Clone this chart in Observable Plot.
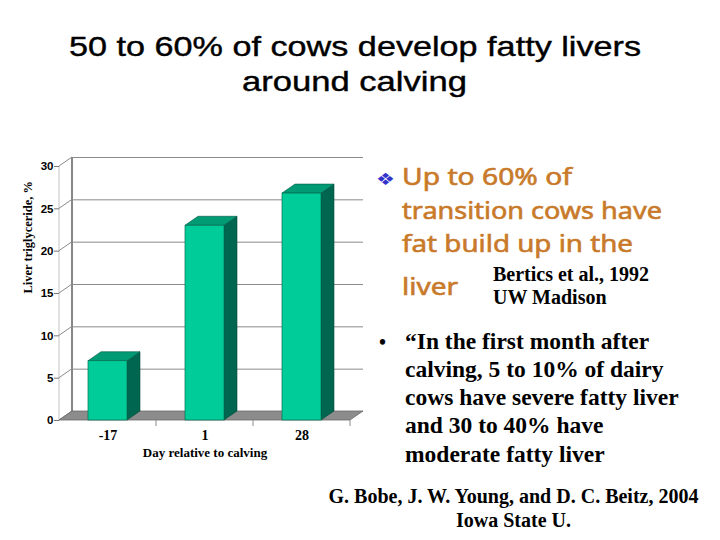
<!DOCTYPE html>
<html>
<head>
<meta charset="utf-8">
<script src="https://cdn.jsdelivr.net/npm/d3@7"></script>
<script src="https://cdn.jsdelivr.net/npm/@observablehq/plot@0.6"></script>
<style>
  html, body { margin: 0; padding: 0; background: #fff; }
  #slide { position: relative; width: 720px; height: 540px; overflow: hidden; background: #fff; }
  #chart { position: absolute; left: 0; top: 140px; }
  #notes { position: absolute; left: 0; top: 0; pointer-events: none; }
  #chart g[aria-label="y-axis tick label"] { font-family: 'Liberation Sans', Arial, sans-serif; font-size: 11.5px; font-weight: bold; }
  #chart g[aria-label="x-axis tick label"] { font-family: 'Liberation Serif', 'Times New Roman', serif; font-size: 14px; font-weight: bold; }
</style>
</head>
<body>
<div id="slide">
  <div id="chart"></div>
  <svg id="notes" width="720" height="540"></svg>
</div>
<script>
// ---------- data ----------
const days = ["-17", "1", "28"];
const triglyceride = [7.0, 23.0, 26.8];
const yTicks = [0, 5, 10, 15, 20, 25, 30];
const yLabel = "Liver triglyceride, %";
const xLabel = "Day relative to calving";

const titleLines = ["50 to 60% of cows develop fatty livers", "around calving"];
const pointLines = ["Up to 60% of", "transition cows have", "fat build up in the", "liver"];
const sourceLines = ["Bertics et al., 1992", "UW Madison"];
const quoteLines = ["\u201CIn the first month after", "calving, 5 to 10% of dairy", "cows have severe fatty liver", "and 30 to 40% have", "moderate fatty liver"];
const creditLines = ["G. Bobe, J. W. Young, and D. C. Beitz, 2004", "Iowa State U."];

const rows = days.map((day, i) => ({day, value: triglyceride[i]}));

// ---------- 3D helpers ----------
const DX = 13, DY = -9;
const SERIF = "'Liberation Serif', 'Times New Roman', serif";
const SANS = "'Liberation Sans', Arial, sans-serif";

function poly(g, pts, fill, stroke, sw) {
  g.append("polygon")
    .attr("points", pts.map(p => p.join(",")).join(" "))
    .attr("fill", fill).attr("stroke", stroke).attr("stroke-width", sw)
    .attr("stroke-linejoin", "round");
}
function seg(g, a, b, stroke, sw) {
  g.append("line").attr("x1", a[0]).attr("y1", a[1]).attr("x2", b[0]).attr("y2", b[1])
    .attr("stroke", stroke).attr("stroke-width", sw);
}
function bandwidthOf(x) { return typeof x.bandwidth === "function" ? x.bandwidth() : x.bandwidth; }

const leftWall = (index, scales, values, dim) => {
  const {y} = scales;
  const g = d3.create("svg:g");
  const x0 = dim.marginLeft;
  const yTop = y(d3.max(yTicks)), yBase = y(0);
  seg(g, [x0, yTop], [x0, yBase], "#c4c4c4", 1);
  seg(g, [x0 + DX, yTop + DY], [x0 + DX, yBase + DY], "#7a7a7a", 1.8);
  for (const t of yTicks) seg(g, [x0, y(t)], [x0 + DX, y(t) + DY], "#8a8a8a", 1);
  return g.node();
};

const floor = (index, scales, values, dim) => {
  const {x, y} = scales;
  const g = d3.create("svg:g");
  const x0 = dim.marginLeft, x1 = dim.width - dim.marginRight, yb = y(0);
  poly(g, [[x0, yb], [x1, yb], [x1 + DX, yb + DY], [x0 + DX, yb + DY]], "#8c8c8c", "#6a6a6a", 0.8);
  const bw = bandwidthOf(x);
  days.forEach((d, i) => {
    const bx = i < days.length - 1 ? (x(d) + bw + x(days[i + 1])) / 2 : x1;
    seg(g, [bx, yb], [bx, yb + 6], "#8a8a8a", 1);
  });
  return g.node();
};

const bars3d = (index, scales) => {
  const {x, y} = scales;
  const g = d3.create("svg:g");
  const bw = bandwidthOf(x), yb = y(0);
  rows.forEach(r => {
    const bx = x(r.day), yt = y(r.value);
    poly(g, [[bx + bw, yb], [bx + bw, yt], [bx + bw + DX, yt + DY], [bx + bw + DX, yb + DY]], "#00664f", "#004a38", 0.6);
    poly(g, [[bx, yt], [bx + bw, yt], [bx + bw + DX, yt + DY], [bx + DX, yt + DY]], "#009a74", "#005a44", 0.6);
  });
  return g.node();
};

// ---------- chart ----------
const chart = Plot.plot({
  width: 370,
  height: 330,
  marginLeft: 59,
  marginRight: 20,
  marginTop: 26,
  marginBottom: 50,
  style: {background: "transparent", overflow: "visible"},
  x: {type: "band", domain: days, paddingInner: 0.6, paddingOuter: 0.3, axis: null, label: null},
  y: {domain: [0, 30], axis: null, label: null},
  marks: [
    leftWall,
    Plot.ruleY(yTicks, {dx: DX, dy: DY, stroke: "#8a8a8a", strokeWidth: 1}),
    floor,
    bars3d,
    Plot.barY(rows, {x: "day", y: "value", fill: "#00cc99", stroke: "#006e52", strokeWidth: 0.7}),
    Plot.axisY(yTicks, {tickSize: 5, tickPadding: 1, stroke: "#777", fontSize: 11.5, fontWeight: "bold", fontFamily: SANS, label: null}),
    Plot.axisX({tickSize: 0, tickPadding: 10, fontSize: 14, fontWeight: "bold", fontFamily: SERIF, label: null}),
    Plot.text([yLabel], {text: d => d, frameAnchor: "left", rotate: -90, dx: -32, fontSize: 12.5, fontWeight: "bold", fontFamily: SERIF, fill: "#000"}),
    Plot.text([xLabel], {text: d => d, frameAnchor: "bottom", dy: 36.5, fontSize: 13, fontWeight: "bold", fontFamily: SERIF, fill: "#000"})
  ]
});
document.getElementById("chart").appendChild(chart);

// ---------- slide text ----------
const notes = d3.select("#notes");
function addLine(str, o) {
  const t = notes.append("text")
    .attr("x", o.x).attr("y", o.y)
    .attr("font-family", o.family).attr("font-size", o.size)
    .attr("font-weight", o.weight || "normal")
    .attr("fill", o.fill || "#000")
    .attr("text-anchor", o.anchor || "start")
    .text(str);
  if (o.len) t.attr("textLength", o.len).attr("lengthAdjust", "spacingAndGlyphs");
  if (o.stroke) t.attr("stroke", o.stroke).attr("stroke-width", o.strokeWidth);
  return t;
}

const titleX = [69, 242], titleY = [56, 91], titleLen = [572, 225];
titleLines.forEach((s, i) => addLine(s, {x: titleX[i], y: titleY[i], len: titleLen[i], family: SANS, size: 28, stroke: "#000", strokeWidth: 0.4}));

addLine("\u2756", {x: 376, y: 185, family: "'DejaVu Sans', sans-serif", size: 17, fill: "#3333cc", len: 19});
const pointY = [185, 219, 252, 295], pointLen = [170, 260, 231, 56];
pointLines.forEach((s, i) => addLine(s, {x: 402, y: pointY[i], len: pointLen[i], family: "'Comic Sans MS', 'Noto Sans', sans-serif", size: 24, fill: "#c87a2a", stroke: "#c87a2a", strokeWidth: 0.6}));

const sourceY = [281, 304];
sourceLines.forEach((s, i) => addLine(s, {x: 493, y: sourceY[i], family: SERIF, size: 20, weight: "bold"}));

addLine("\u2022", {x: 379, y: 349, family: SERIF, size: 20, weight: "bold"});
const quoteY = [349, 377, 405, 433, 462];
quoteLines.forEach((s, i) => addLine(s, {x: 405, y: quoteY[i], family: SERIF, size: 23.5, weight: "bold"}));

const creditY = [503, 527];
creditLines.forEach((s, i) => addLine(s, {x: 513.5, y: creditY[i], family: SERIF, size: 20, weight: "bold", anchor: "middle"}));
</script>
</body>
</html>
